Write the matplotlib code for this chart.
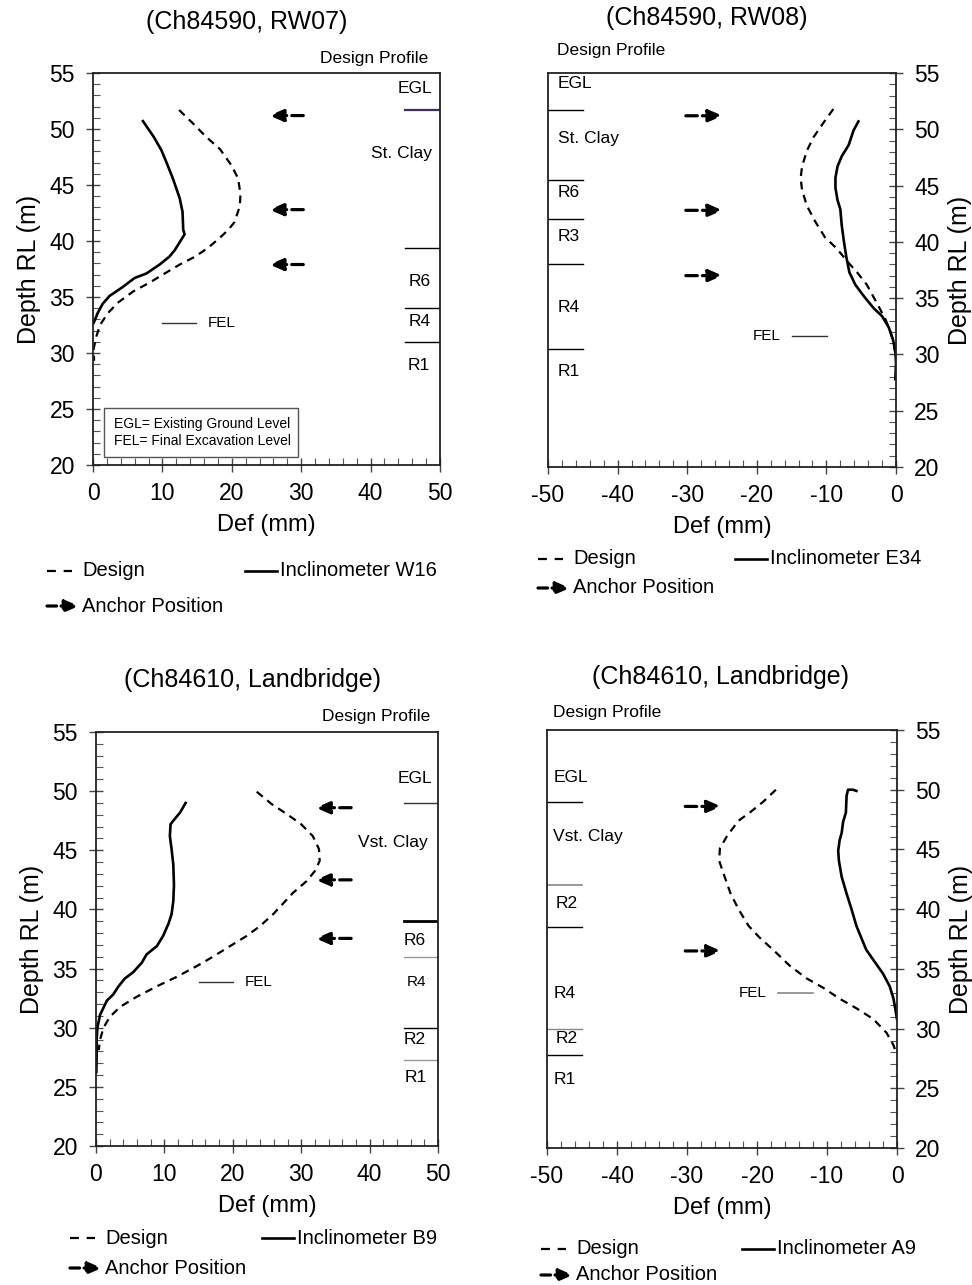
import matplotlib
matplotlib.use('Agg')
import matplotlib.pyplot as plt
from matplotlib.ticker import MultipleLocator
from matplotlib.patches import Rectangle, FancyArrowPatch
from matplotlib.lines import Line2D

plt.rcParams['font.family'] = ['Liberation Sans', 'DejaVu Sans']
plt.rcParams['axes.unicode_minus'] = False

W, H = 972, 1285

# ---------------- data ----------------
titles = ["(Ch84590, RW07)", "(Ch84590, RW08)", "(Ch84610, Landbridge)", "(Ch84610, Landbridge)"]
inclinometer_names = ["Inclinometer W16", "Inclinometer E34", "Inclinometer B9", "Inclinometer A9"]

# Panel 1 (RW07)
p1_meas_def = [7.2, 8.75, 9.86, 10.6, 11.5, 12.5, 12.9, 13.0, 13.2, 12.7, 11.8, 11.0, 9.6, 7.7, 6.0, 4.3, 2.4, 1.4, 0.7, 0.1]
p1_meas_rl = [50.7, 49.3, 48.1, 47.0, 45.6, 43.8, 42.6, 41.0, 40.6, 40.1, 39.2, 38.6, 37.9, 37.1, 36.7, 35.9, 35.1, 34.4, 33.6, 32.7]
p1_design_def = [12.4, 14.4, 16.3, 18.3, 19.9, 20.9, 21.25, 21.15, 20.4, 19.5, 18.3, 16.6, 14.7, 12.5, 10.6, 8.2, 5.8, 3.6, 2.2, 1.0, 0.5, 0.1, 0.15]
p1_design_rl = [51.7, 50.5, 49.3, 48.2, 46.8, 45.6, 44.2, 43.1, 41.7, 41.0, 40.3, 39.4, 38.6, 37.9, 37.2, 36.3, 35.5, 34.5, 33.6, 32.5, 31.5, 30.4, 29.3]
p1_anchor_rl = [51.2, 42.8, 37.9]
p1_layer_levels = [51.7, 39.4, 34.0, 31.0]
p1_layer_names = ["EGL", "St. Clay", "R6", "R4", "R1"]
p1_layer_label_rl = [53.6, 47.8, 36.4, 32.8, 28.9]
p1_fel = 32.7

# Panel 2 (RW08)
p2_meas_def = [-5.4, -6.1, -6.8, -7.8, -8.4, -8.7, -8.7, -8.4, -8.0, -7.8, -7.5, -7.15, -6.7, -5.85, -4.65, -3.2, -2.0, -1.04, -0.43, -0.1, 0.0, -0.1]
p2_meas_rl = [50.7, 49.9, 48.6, 47.6, 46.7, 45.7, 44.8, 43.7, 42.9, 41.5, 40.1, 38.7, 37.3, 36.2, 35.2, 34.1, 33.4, 32.4, 31.3, 30.3, 29.2, 27.8]
p2_design_def = [-9.0, -10.4, -11.85, -12.8, -13.5, -13.7, -13.5, -12.8, -11.6, -10.2, -8.5, -7.05, -5.6, -4.2, -2.7, -1.5, -0.8, -0.3, -0.1]
p2_design_rl = [51.8, 50.6, 49.3, 48.1, 46.7, 45.65, 44.6, 43.2, 41.8, 40.4, 39.4, 38.3, 37.3, 36.2, 34.5, 33.1, 32.0, 31.0, 29.9]
p2_anchor_rl = [51.2, 42.8, 37.0]
p2_layer_levels = [51.7, 45.5, 42.0, 38.0, 30.5]
p2_layer_names = ["EGL", "St. Clay", "R6", "R3", "R4", "R1"]
p2_layer_label_rl = [54.1, 49.2, 44.4, 40.5, 34.2, 28.5]
p2_fel = 31.65

# Panel 3 (Landbridge, B9)
p3_meas_def = [13.1, 12.3, 11.3, 10.9, 10.8, 11.05, 11.3, 11.4, 11.3, 11.05, 10.6, 9.8, 8.9, 7.4, 6.7, 5.45, 4.2, 3.3, 2.5, 1.6, 1.1, 0.6, 0.2, 0.1, 0.1, 0.05]
p3_meas_rl = [49.0, 48.2, 47.5, 47.2, 46.2, 45.1, 43.8, 42.05, 40.7, 39.6, 38.8, 37.75, 36.9, 36.2, 35.5, 34.7, 34.15, 33.5, 32.8, 32.3, 31.7, 31.1, 30.0, 29.0, 27.6, 26.25]
p3_design_def = [23.5, 25.7, 27.8, 30.0, 31.7, 32.6, 32.7, 32.0, 30.8, 28.8, 25.9, 24.0, 22.0, 19.6, 17.1, 14.7, 11.8, 8.9, 5.9, 3.5, 2.0, 1.1, 0.6, 0.4]
p3_design_rl = [49.95, 48.9, 48.1, 47.2, 46.2, 45.1, 44.1, 43.25, 42.4, 41.4, 39.6, 38.6, 37.75, 36.9, 36.0, 35.2, 34.3, 33.5, 32.6, 31.75, 30.9, 30.0, 29.0, 28.1]
p3_anchor_rl = [48.6, 42.5, 37.55]
p3_layer_levels = [49.0, 39.0, 36.0, 30.0, 27.3]
p3_layer_names = ["EGL", "Vst. Clay", "R6", "R4", "R2", "R1"]
p3_layer_label_rl = [51.05, 45.65, 37.4, 33.9, 29.0, 25.8]
p3_fel = 33.9

# Panel 4 (Landbridge, A9)
p4_meas_def = [-5.8, -6.3, -7.0, -7.2, -7.3, -7.7, -7.9, -8.2, -8.4, -8.3, -7.9, -7.2, -6.5, -5.8, -5.1, -4.4, -3.2, -2.0, -1.05, -0.5, -0.2, 0.0]
p4_meas_rl = [49.9, 50.0, 50.0, 49.5, 48.1, 47.3, 46.4, 45.75, 44.9, 44.05, 42.7, 41.3, 40.0, 38.6, 37.6, 36.6, 35.6, 34.6, 33.55, 32.5, 31.5, 30.8]
p4_design_def = [-17.3, -19.1, -21.0, -22.65, -24.3, -25.3, -25.4, -24.8, -23.8, -22.65, -21.2, -19.6, -17.7, -15.3, -12.9, -10.5, -8.2, -5.8, -3.4, -1.5, -0.5, -0.2]
p4_design_rl = [50.0, 49.0, 48.1, 47.4, 46.1, 45.1, 44.05, 43.0, 41.35, 40.0, 38.6, 37.6, 36.6, 35.25, 34.2, 33.4, 32.5, 31.7, 30.8, 29.65, 28.6, 28.1]
p4_anchor_rl = [48.6, 36.5]
p4_layer_levels = [49.0, 42.05, 38.5, 30.0, 27.8]
p4_layer_names = ["EGL", "Vst. Clay", "R2", "R4", "R2", "R1"]
p4_layer_label_rl = [51.0, 46.1, 40.5, 32.9, 29.15, 25.7]
p4_fel = 33.0

# ---------------- helpers ----------------
fig = plt.figure(figsize=(W / 100, H / 100), dpi=100)

TICK_FS = 16.5
LABEL_FS = 17
YLABEL_FS = 18
TITLE_FS = 18
LAYER_FS = 12.5
LEG_FS = 14.5


def add_axes_px(left, top, right, bottom):
    return fig.add_axes([left / W, 1 - bottom / H, (right - left) / W, (bottom - top) / H])


def fx(x):
    return x / W


def fy(y):
    return 1 - y / H


def style_axes(ax, xlim, right_y):
    ax.set_xlim(*xlim)
    ax.set_ylim(20, 55)
    ax.xaxis.set_major_locator(MultipleLocator(10))
    ax.xaxis.set_minor_locator(MultipleLocator(2))
    ax.yaxis.set_major_locator(MultipleLocator(5))
    ax.yaxis.set_minor_locator(MultipleLocator(1))
    for s in ax.spines.values():
        s.set_linewidth(1.3)
        s.set_color('#222222')
    ax.tick_params(axis='both', which='major', direction='inout', length=10, width=1.0,
                   labelsize=TICK_FS, color='#444444')
    ax.tick_params(axis='both', which='minor', direction='in', length=5, width=0.8, color='#555555')
    ax.tick_params(axis='x', which='major', pad=7)
    ax.tick_params(axis='y', which='major', pad=8)
    if right_y:
        ax.yaxis.tick_right()
        ax.yaxis.set_label_position('right')
        ax.tick_params(axis='y', which='both', left=False, right=True)
    ax.set_xlabel('Def (mm)', fontsize=LABEL_FS, labelpad=7)
    ax.set_ylabel('Depth RL (m)', fontsize=YLABEL_FS, labelpad=6)


def anchor(ax, y, tail, head):
    ax.annotate('', xy=(head, y), xytext=(tail, y),
                arrowprops=dict(arrowstyle='-|>,head_length=0.7,head_width=0.3',
                                lw=2.3, linestyle=(0, (3.6, 1.6)), color='black',
                                shrinkA=0, shrinkB=0, mutation_scale=12),
                annotation_clip=False)


def plot_curves(ax, ddef, drl, mdef, mrl):
    ax.plot(ddef, drl, color='black', lw=1.6, dashes=(3.5, 2.6))
    ax.plot(mdef, mrl, color='black', lw=1.9)


def legend_px(x0, y_row1, y_row2, sol_x0, name, dash_w=25, sol_w=32):
    fig.add_artist(Line2D([fx(x0), fx(x0 + dash_w)], [fy(y_row1)] * 2, color='black', lw=1.6,
                          dashes=(4.0, 3.5)))
    fig.text(fx(x0 + dash_w + 10), fy(y_row1), 'Design', fontsize=LEG_FS, va='center', ha='left')
    fig.add_artist(Line2D([fx(sol_x0), fx(sol_x0 + sol_w)], [fy(y_row1)] * 2, color='black', lw=1.9))
    fig.text(fx(sol_x0 + sol_w + 3), fy(y_row1), name, fontsize=LEG_FS, va='center', ha='left')
    fig.add_artist(FancyArrowPatch(
        (fx(x0), fy(y_row2)), (fx(x0 + 32), fy(y_row2)), transform=fig.transFigure,
        arrowstyle='-|>,head_length=0.7,head_width=0.3', lw=2.3, linestyle=(0, (3.0, 1.4)),
        color='black', mutation_scale=12, shrinkA=0, shrinkB=0))
    fig.text(fx(x0 + 35), fy(y_row2), 'Anchor Position', fontsize=LEG_FS, va='center', ha='left')


# ---------------- Panel 1 ----------------
ax1 = add_axes_px(93, 73, 440, 465)
style_axes(ax1, (0, 50), right_y=False)
plot_curves(ax1, p1_design_def, p1_design_rl, p1_meas_def, p1_meas_rl)
for y in p1_anchor_rl:
    anchor(ax1, y, 30.3, 25.4)
for i, lev in enumerate(p1_layer_levels):
    ax1.plot([45, 50], [lev, lev], color='#3b2d5c' if i == 0 else 'black', lw=1.6 if i == 0 else 1.0)
p1_label_x = [46.4, 44.5, 47.1, 47.1, 46.9]
for name, rl, lx in zip(p1_layer_names, p1_layer_label_rl, p1_label_x):
    ax1.text(lx, rl, name, fontsize=LAYER_FS, ha='center', va='center')
ax1.plot([10, 14.9], [p1_fel, p1_fel], color='#333333', lw=1.0)
ax1.text(16.6, p1_fel, 'FEL', fontsize=11, ha='left', va='center')
ax1.add_patch(Rectangle((1.6, 20.7), 28.0, 4.4, fill=False, edgecolor='#555555', lw=1.0))
ax1.text(3.0, 22.9, 'EGL= Existing Ground Level\nFEL= Final Excavation Level', fontsize=10,
         ha='left', va='center', linespacing=1.2)
fig.text(fx(428), fy(58), 'Design Profile', fontsize=12.5, ha='right', va='center')
fig.text(fx(247), fy(22), titles[0], fontsize=TITLE_FS, ha='center', va='center')
legend_px(47, 571, 606, 245, inclinometer_names[0])

# ---------------- Panel 2 ----------------
ax2 = add_axes_px(548, 73, 896, 467)
style_axes(ax2, (-50, 0), right_y=True)
plot_curves(ax2, p2_design_def, p2_design_rl, p2_meas_def, p2_meas_rl)
for y in p2_anchor_rl:
    anchor(ax2, y, -30.2, -24.9)
for lev in p2_layer_levels:
    ax2.plot([-50, -45], [lev, lev], color='black', lw=1.0)
for name, rl in zip(p2_layer_names, p2_layer_label_rl):
    ax2.text(-48.6, rl, name, fontsize=LAYER_FS, ha='left', va='center')
ax2.plot([-15.0, -9.9], [p2_fel, p2_fel], color='#333333', lw=1.0)
ax2.text(-16.6, p2_fel, 'FEL', fontsize=11, ha='right', va='center')
fig.text(fx(557), fy(51), 'Design Profile', fontsize=12.5, ha='left', va='center')
fig.text(fx(707), fy(18), titles[1], fontsize=TITLE_FS, ha='center', va='center')
legend_px(538, 559, 588, 735, inclinometer_names[1])

# ---------------- Panel 3 ----------------
ax3 = add_axes_px(96, 732, 438, 1146)
style_axes(ax3, (0, 50), right_y=False)
plot_curves(ax3, p3_design_def, p3_design_rl, p3_meas_def, p3_meas_rl)
for y in p3_anchor_rl:
    anchor(ax3, y, 37.3, 32.1)
p3_line_style = [('#333333', 1.0), ('black', 2.0), ('#999999', 1.0), ('black', 1.0), ('#999999', 1.0)]
for lev, (c, lw) in zip(p3_layer_levels, p3_line_style):
    ax3.plot([45, 50], [lev, lev], color=c, lw=lw)
p3_label_x = [46.6, 43.4, 46.6, 46.9, 46.6, 46.7]
p3_label_fs = [LAYER_FS, LAYER_FS, LAYER_FS, 11, LAYER_FS, LAYER_FS]
for name, rl, lx, fs in zip(p3_layer_names, p3_layer_label_rl, p3_label_x, p3_label_fs):
    ax3.text(lx, rl, name, fontsize=fs, ha='center', va='center')
ax3.plot([15.0, 20.05], [p3_fel, p3_fel], color='#333333', lw=1.0)
ax3.text(21.7, p3_fel, 'FEL', fontsize=11, ha='left', va='center')
fig.text(fx(430), fy(716), 'Design Profile', fontsize=12.5, ha='right', va='center')
fig.text(fx(252), fy(680), titles[2], fontsize=TITLE_FS, ha='center', va='center')
legend_px(70, 1238, 1268, 262, inclinometer_names[2])

# ---------------- Panel 4 ----------------
ax4 = add_axes_px(547, 730, 897, 1148)
style_axes(ax4, (-50, 0), right_y=True)
plot_curves(ax4, p4_design_def, p4_design_rl, p4_meas_def, p4_meas_rl)
for y in p4_anchor_rl:
    anchor(ax4, y, -30.25, -25.1)
p4_line_style = [('black', 1.0), ('#888888', 1.2), ('black', 1.0), ('#888888', 1.0), ('black', 1.0)]
for lev, (c, lw) in zip(p4_layer_levels, p4_line_style):
    ax4.plot([-50, -45], [lev, lev], color=c, lw=lw)
p4_label_x = [-49.0, -49.2, -48.8, -49.0, -48.8, -49.0]
for name, rl, lx in zip(p4_layer_names, p4_layer_label_rl, p4_label_x):
    ax4.text(lx, rl, name, fontsize=LAYER_FS, ha='left', va='center')
ax4.plot([-16.95, -12.0], [p4_fel, p4_fel], color='#888888', lw=1.2)
ax4.text(-18.6, p4_fel, 'FEL', fontsize=11, ha='right', va='center')
fig.text(fx(553), fy(712), 'Design Profile', fontsize=12.5, ha='left', va='center')
fig.text(fx(720), fy(677), titles[3], fontsize=TITLE_FS, ha='center', va='center')
legend_px(541, 1249, 1275, 742, inclinometer_names[3])

fig.savefig('out.png', dpi=100, facecolor='white')
